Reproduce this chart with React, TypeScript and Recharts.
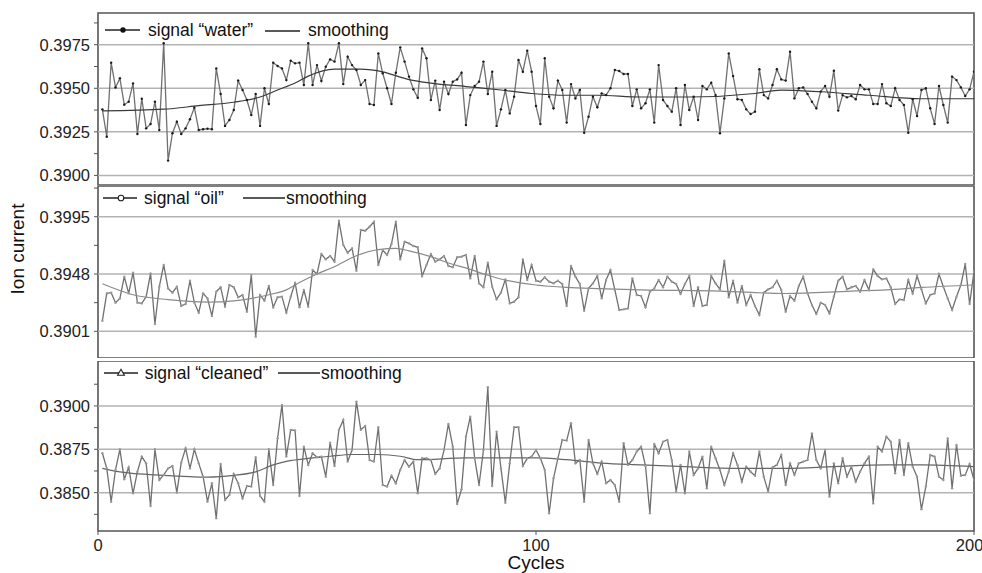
import { LineChart, Line, XAxis, YAxis, ReferenceLine, ReferenceArea } from 'recharts';

// signal readings, cycles 1..200
const water = [
  0.39379, 0.39222, 0.39647, 0.39505, 0.39557, 0.39406, 0.39423, 0.39528, 0.39238, 0.3944,
  0.3927, 0.39295, 0.39423, 0.39261, 0.39758, 0.39085, 0.39242, 0.39308, 0.39238, 0.3927,
  0.39322, 0.39389, 0.39261, 0.39265, 0.39268, 0.39265, 0.39614, 0.39467, 0.39284, 0.39318,
  0.39375, 0.39544, 0.3949, 0.39433, 0.39347, 0.39467, 0.39284, 0.395, 0.3941, 0.39647,
  0.39628, 0.39614, 0.39547, 0.39658, 0.39643, 0.39647, 0.39519, 0.39758, 0.39519, 0.39633,
  0.39542, 0.39624, 0.39666, 0.39653, 0.39758, 0.39524, 0.39681, 0.39633, 0.39605, 0.39519,
  0.39547, 0.3941, 0.39404, 0.397, 0.39586, 0.395, 0.3941, 0.39589, 0.39735, 0.39653,
  0.39567, 0.39494, 0.39446, 0.39729, 0.39672, 0.39433, 0.39544, 0.39375, 0.39538, 0.39467,
  0.39538, 0.39551, 0.39589, 0.39289, 0.39461, 0.39513, 0.39538, 0.39653, 0.39467, 0.39595,
  0.39284, 0.39379, 0.3949, 0.39356, 0.39452, 0.39662, 0.39595, 0.39716, 0.39595, 0.39398,
  0.39295, 0.39672, 0.39452, 0.39385, 0.39544, 0.3949, 0.39303, 0.39524, 0.39442, 0.3949,
  0.39245, 0.39337, 0.39452, 0.39391, 0.39471, 0.39461, 0.395, 0.39605, 0.39599, 0.39582,
  0.39582, 0.39398, 0.39494, 0.39385, 0.39414, 0.39494, 0.39303, 0.39633, 0.39433, 0.39398,
  0.39366, 0.395, 0.39289, 0.39519, 0.39375, 0.39452, 0.39318, 0.39513, 0.39494, 0.39532,
  0.39461, 0.39242, 0.39442, 0.397, 0.3957, 0.39437, 0.39433, 0.39379, 0.39352, 0.39366,
  0.39609, 0.39461, 0.39442, 0.39519, 0.39609, 0.39551, 0.39544, 0.3971, 0.39442, 0.395,
  0.39505, 0.39467, 0.39423, 0.39385, 0.39481, 0.39513, 0.39452, 0.39601, 0.39372, 0.39461,
  0.39448, 0.39456, 0.39437, 0.39519, 0.39494, 0.39494, 0.3941, 0.3941, 0.39524, 0.39414,
  0.39398, 0.395, 0.39433, 0.39404, 0.39245, 0.39437, 0.39341, 0.3949, 0.395, 0.39385,
  0.39295, 0.39513, 0.39404, 0.39303, 0.39567, 0.39547, 0.39505, 0.39456, 0.39494, 0.39595,
];

const oil = [
  0.39097, 0.39321, 0.39327, 0.39245, 0.3928, 0.39458, 0.39321, 0.39491, 0.39245, 0.39239,
  0.39294, 0.39485, 0.3907, 0.39376, 0.39554, 0.39362, 0.39327, 0.39376, 0.39218, 0.39234,
  0.39425, 0.39245, 0.39163, 0.39321, 0.3928, 0.39136, 0.39335, 0.39371, 0.39212, 0.3939,
  0.39371, 0.39289, 0.39308, 0.39171, 0.39472, 0.38966, 0.39308, 0.39261, 0.39382, 0.39207,
  0.39289, 0.39294, 0.39163, 0.39294, 0.39409, 0.39207, 0.39349, 0.39212, 0.39513, 0.3948,
  0.39644, 0.396, 0.39628, 0.39581, 0.39917, 0.39718, 0.39655, 0.3969, 0.39507, 0.39841,
  0.39835, 0.39868, 0.39909, 0.39554, 0.39677, 0.39636, 0.39726, 0.39909, 0.396, 0.39745,
  0.39731, 0.3971, 0.39699, 0.39464, 0.39554, 0.39644, 0.39581, 0.396, 0.39628, 0.39546,
  0.39535, 0.39617, 0.39622, 0.39636, 0.39444, 0.39628, 0.39403, 0.39371, 0.39573, 0.39376,
  0.39272, 0.39327, 0.39436, 0.39239, 0.39253, 0.39289, 0.396, 0.39431, 0.39554, 0.39425,
  0.39417, 0.39453, 0.39417, 0.39403, 0.39425, 0.39398, 0.39218, 0.39546, 0.39458, 0.39398,
  0.39179, 0.39362, 0.39403, 0.39464, 0.3928, 0.39431, 0.39513, 0.39349, 0.39185, 0.3919,
  0.39198, 0.39444, 0.39308, 0.393, 0.39207, 0.39335, 0.39362, 0.39431, 0.39371, 0.39458,
  0.39417, 0.39398, 0.39316, 0.39398, 0.39464, 0.39218, 0.39371, 0.39218, 0.39226, 0.39464,
  0.39403, 0.39354, 0.39589, 0.39289, 0.39425, 0.39245, 0.39382, 0.39226, 0.39308, 0.39218,
  0.39144, 0.39327, 0.39354, 0.39371, 0.39425, 0.39349, 0.39171, 0.393, 0.39261, 0.39382,
  0.39458, 0.39321, 0.39226, 0.39152, 0.39245, 0.39226, 0.39157, 0.39294, 0.39425, 0.39458,
  0.39354, 0.39371, 0.39382, 0.39335, 0.39431, 0.39349, 0.39518, 0.39464, 0.39436, 0.39444,
  0.39371, 0.39234, 0.39272, 0.39267, 0.39431, 0.39321, 0.39464, 0.39354, 0.39239, 0.39308,
  0.39321, 0.3948, 0.39376, 0.3928, 0.39185, 0.39294, 0.3939, 0.39562, 0.39234, 0.39499,
];

const cleaned = [
  0.38727, 0.3864, 0.38448, 0.38631, 0.3875, 0.38577, 0.38646, 0.38496, 0.38621, 0.38708,
  0.38669, 0.38423, 0.3875, 0.38573, 0.38602, 0.3864, 0.38654, 0.385, 0.38673, 0.38756,
  0.3864, 0.3875, 0.38669, 0.38592, 0.38448, 0.38554, 0.38352, 0.38665, 0.38458, 0.38487,
  0.38608, 0.38554, 0.38467, 0.38538, 0.38535, 0.38704, 0.38481, 0.38448, 0.3875, 0.38544,
  0.38813, 0.39006, 0.38708, 0.38862, 0.38858, 0.38481, 0.38765, 0.3866, 0.38727, 0.38704,
  0.38708, 0.38592, 0.38788, 0.38654, 0.38862, 0.38919, 0.38679, 0.38746, 0.39025, 0.38862,
  0.38885, 0.38688, 0.38679, 0.38877, 0.38544, 0.38535, 0.38598, 0.38554, 0.38631, 0.38688,
  0.3865, 0.38679, 0.38496, 0.38698, 0.38698, 0.38688, 0.38608, 0.3864, 0.38746, 0.38896,
  0.38765, 0.38435, 0.38519, 0.38823, 0.38938, 0.38698, 0.38544, 0.38746, 0.39108, 0.38538,
  0.38852, 0.3864, 0.38442, 0.38669, 0.38877, 0.38877, 0.38654, 0.38698, 0.38708, 0.38746,
  0.38698, 0.38631, 0.38381, 0.38583, 0.38698, 0.38804, 0.388, 0.389, 0.38669, 0.38688,
  0.38448, 0.38804, 0.38669, 0.38608, 0.38679, 0.38554, 0.38573, 0.38544, 0.38448, 0.38785,
  0.3866, 0.38688, 0.38737, 0.38765, 0.38654, 0.38381, 0.38781, 0.38727, 0.38794, 0.38804,
  0.38688, 0.38506, 0.3866, 0.38496, 0.38737, 0.38602, 0.3864, 0.38708, 0.38525, 0.38765,
  0.38698, 0.38631, 0.38544, 0.38621, 0.38727, 0.3866, 0.38563, 0.3865, 0.38621, 0.38598,
  0.38737, 0.38592, 0.38506, 0.38646, 0.3866, 0.38717, 0.38544, 0.38669, 0.38602, 0.38669,
  0.38679, 0.38688, 0.38842, 0.38688, 0.3864, 0.38746, 0.38477, 0.38669, 0.38554, 0.38698,
  0.38592, 0.3865, 0.38563, 0.38621, 0.38669, 0.38708, 0.38438, 0.38765, 0.38737, 0.38823,
  0.38794, 0.38612, 0.38804, 0.38602, 0.38785, 0.3865, 0.38592, 0.38404, 0.38535, 0.38717,
  0.38708, 0.38592, 0.38573, 0.38813, 0.38525, 0.38775, 0.38598, 0.38602, 0.38665, 0.38573,
];

// smoothing curves, read at a few cycles
const waterSmoothCycles = [1, 15, 23, 31, 37, 41, 45, 48, 54, 60, 64, 71, 76, 84, 92, 99, 107, 114, 124, 135, 150, 156, 165, 176, 188, 200];
const waterSmoothValues = [0.3937, 0.3938, 0.394, 0.3942, 0.3945, 0.3949, 0.3953, 0.3957, 0.3961, 0.3961, 0.396, 0.3955, 0.3953, 0.3951, 0.3949, 0.3947, 0.3946, 0.3946, 0.3945, 0.3945, 0.3947, 0.3949, 0.3948, 0.3946, 0.3944, 0.3944];

const oilSmoothCycles = [1, 8, 16, 25, 31, 39, 43, 46, 50, 54, 59, 64, 68, 71, 77, 80, 84, 89, 93, 100, 107, 115, 124, 142, 157, 172, 180, 188, 200];
const oilSmoothValues = [0.394, 0.3931, 0.3927, 0.3925, 0.3926, 0.3931, 0.3935, 0.3941, 0.3948, 0.3954, 0.3963, 0.3968, 0.3969, 0.3967, 0.3961, 0.3957, 0.3953, 0.3947, 0.3943, 0.3939, 0.3937, 0.3936, 0.3935, 0.3934, 0.3932, 0.3934, 0.3935, 0.3937, 0.3939];

const cleanedSmoothCycles = [1, 5, 15, 25, 31, 36, 40, 43, 49, 53, 58, 64, 69, 73, 84, 92, 100, 107, 115, 124, 134, 146, 157, 168, 180, 188, 200];
const cleanedSmoothValues = [0.3864, 0.3862, 0.386, 0.3859, 0.386, 0.3862, 0.3866, 0.3868, 0.387, 0.3871, 0.3872, 0.3872, 0.3871, 0.3869, 0.387, 0.387, 0.387, 0.3869, 0.3867, 0.3866, 0.3865, 0.3864, 0.3864, 0.3865, 0.3866, 0.3866, 0.3865];

const xTicks = [0, 100, 200];
const waterTicks = [0.39, 0.3925, 0.395, 0.3975];
const waterMinor = [0.39125, 0.39375, 0.39625, 0.39875];
const oilTicks = [0.3901, 0.3948, 0.3995];
const oilMinor = [0.39245, 0.39715, 0.40185];
const cleanedTicks = [0.385, 0.3875, 0.39];
const cleanedMinor = [0.38375, 0.38625, 0.38875, 0.39125];

const FONT = '"Liberation Sans", Arial, sans-serif';
const FRAME = '#555';
const GRID = '#b3b3b3';

type PanelProps = {
  top: number;
  height: number;
  marginTop: number;
  marginBottom: number;
  values: number[];
  smoothCycles: number[];
  smoothValues: number[];
  domain: [number, number];
  ticks: number[];
  minor: number[];
  dotFill: string;
  smoothColor: string;
  showXAxis: boolean;
};

function Panel(p: PanelProps) {
  const rows = p.values.map((v, i) => ({ cycle: i + 1, signal: v }));
  const smooth = p.smoothCycles.map((c, i) => ({ cycle: c, smooth: p.smoothValues[i] }));
  const allTicks = [...p.ticks, ...p.minor].sort((a, b) => a - b);

  return (
    <div style={{ position: 'absolute', left: 0, top: p.top }}>
      <LineChart
        width={982}
        height={p.height}
        data={rows}
        margin={{ top: p.marginTop, right: 8, bottom: p.marginBottom, left: 0 }}
      >
        <XAxis
          dataKey="cycle"
          type="number"
          domain={[0, 200]}
          ticks={xTicks}
          allowDataOverflow
          hide={!p.showXAxis}
          height={30}
          axisLine={false}
          tickLine={{ stroke: FRAME }}
          tickSize={4}
          tickMargin={4}
          tick={{ fill: '#222', fontSize: 16.5, fontFamily: FONT }}
        />
        <YAxis
          type="number"
          domain={p.domain}
          allowDataOverflow
          ticks={allTicks}
          interval={0}
          width={98}
          axisLine={false}
          tickLine={{ stroke: FRAME }}
          tickSize={4}
          tickMargin={4}
          tickFormatter={(v: number) => (p.ticks.includes(v) ? v.toFixed(4) : '')}
          tick={{ fill: '#222', fontSize: 16.5, fontFamily: FONT }}
        />
        {p.ticks.map((t) => (
          <ReferenceLine key={t} y={t} stroke={GRID} strokeWidth={1.5} />
        ))}
        <ReferenceArea
          x1={0}
          x2={200}
          y1={p.domain[0]}
          y2={p.domain[1]}
          fill="none"
          stroke={FRAME}
          strokeWidth={1.6}
        />
        <Line
          dataKey="signal"
          type="linear"
          stroke="#707070"
          strokeWidth={1.3}
          dot={{ r: 1.2, fill: p.dotFill, stroke: 'none' }}
          isAnimationActive={false}
        />
        <Line
          data={smooth}
          dataKey="smooth"
          type="monotone"
          stroke={p.smoothColor}
          strokeWidth={1.2}
          dot={false}
          isAnimationActive={false}
        />
      </LineChart>
    </div>
  );
}

function Legends() {
  const txt = { fontFamily: FONT, fontSize: 17.5, fill: '#111' };
  return (
    <svg
      width={982}
      height={573}
      style={{ position: 'absolute', left: 0, top: 0, pointerEvents: 'none' }}
    >
      <line x1={105} y1={30} x2={140} y2={30} stroke="#222" strokeWidth={1.6} />
      <circle cx={123} cy={30} r={2.7} fill="#111" />
      <text x={148} y={35.5} {...txt}>signal “water”</text>
      <line x1={265} y1={31} x2={300} y2={31} stroke="#222" strokeWidth={1.6} />
      <text x={308} y={35.5} {...txt}>smoothing</text>

      <line x1={103} y1={198} x2={137} y2={198} stroke="#222" strokeWidth={1.6} />
      <circle cx={121} cy={198} r={2.8} fill="#fff" stroke="#222" strokeWidth={1.1} />
      <text x={144} y={204} {...txt}>signal “oil”</text>
      <line x1={243} y1={198} x2={285} y2={198} stroke="#222" strokeWidth={1.6} />
      <text x={286} y={204} {...txt}>smoothing</text>

      <line x1={104} y1={373} x2={138} y2={373} stroke="#222" strokeWidth={1.6} />
      <polygon points="121,369.3 124.4,375.3 117.6,375.3" fill="#fff" stroke="#222" strokeWidth={1.1} />
      <text x={144.7} y={379} {...txt}>signal “cleaned”</text>
      <line x1={278} y1={373} x2={320} y2={373} stroke="#222" strokeWidth={1.6} />
      <text x={321} y={379} {...txt}>smoothing</text>

      <text x={536} y={569} textAnchor="middle" fontFamily={FONT} fontSize={19} fill="#111">
        Cycles
      </text>
      <text
        x={24}
        y={249}
        textAnchor="middle"
        transform="rotate(-90 24 249)"
        fontFamily={FONT}
        fontSize={19}
        fill="#111"
      >
        Ion current
      </text>
    </svg>
  );
}

export default function App() {
  return (
    <div
      style={{
        position: 'absolute',
        left: 0,
        top: 0,
        width: 982,
        height: 573,
        background: '#fff',
        overflow: 'hidden',
      }}
    >
      <Panel
        top={0}
        height={186}
        marginTop={13}
        marginBottom={1}
        values={water}
        smoothCycles={waterSmoothCycles}
        smoothValues={waterSmoothValues}
        domain={[0.38945, 0.39932]}
        ticks={waterTicks}
        minor={waterMinor}
        dotFill="#1a1a1a"
        smoothColor="#3a3a3a"
        showXAxis={false}
      />
      <Panel
        top={186}
        height={172}
        marginTop={0}
        marginBottom={0}
        values={oil}
        smoothCycles={oilSmoothCycles}
        smoothValues={oilSmoothValues}
        domain={[0.38791, 0.40202]}
        ticks={oilTicks}
        minor={oilMinor}
        dotFill="#999"
        smoothColor="#8a8a8a"
        showXAxis={false}
      />
      <Panel
        top={361}
        height={212}
        marginTop={0}
        marginBottom={12}
        values={cleaned}
        smoothCycles={cleanedSmoothCycles}
        smoothValues={cleanedSmoothValues}
        domain={[0.38279, 0.39259]}
        ticks={cleanedTicks}
        minor={cleanedMinor}
        dotFill="#999"
        smoothColor="#666"
        showXAxis={true}
      />
      <Legends />
    </div>
  );
}
